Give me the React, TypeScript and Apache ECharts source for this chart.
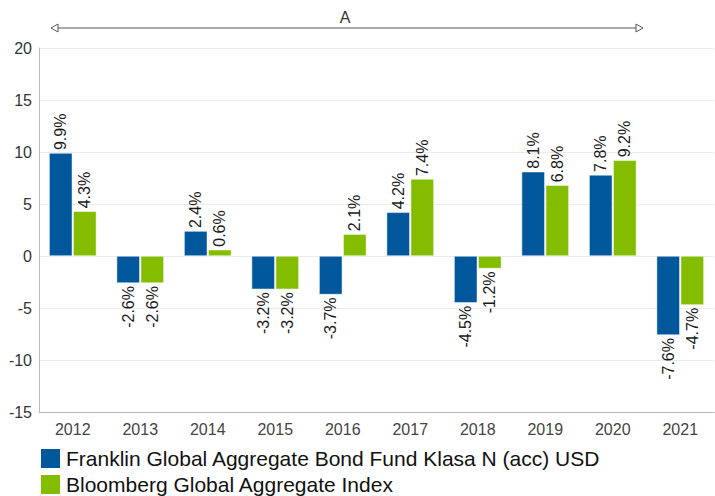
import React, { useEffect, useRef } from "react";
import * as echarts from "echarts";

const categories = ["2012", "2013", "2014", "2015", "2016", "2017", "2018", "2019", "2020", "2021"];
const fundValues = [9.9, -2.6, 2.4, -3.2, -3.7, 4.2, -4.5, 8.1, 7.8, -7.6];
const indexValues = [4.3, -2.6, 0.6, -3.2, 2.1, 7.4, -1.2, 6.8, 9.2, -4.7];
const seriesNames = [
  "Franklin Global Aggregate Bond Fund Klasa N (acc) USD",
  "Bloomberg Global Aggregate Index",
];
const colors = ["#00579c", "#84bd00"];
const FONT = "'Liberation Sans', Arial, sans-serif";

function makeData(vals: number[]) {
  return vals.map((v) => ({
    value: v,
    label: {
      show: true,
      rotate: 90,
      position: v >= 0 ? "top" : "bottom",
      align: v >= 0 ? "left" : "right",
      verticalAlign: "middle",
      distance: 3,
      formatter: (p: any) => `${p.value}%`,
      fontSize: 16,
      color: "#1a1a1a",
      fontFamily: FONT,
    },
  }));
}

const legendBase = {
  orient: "vertical",
  left: 39,
  padding: 0,
  itemWidth: 21,
  itemHeight: 21,
  icon: "rect",
  textStyle: { fontSize: 21, color: "#111", fontFamily: FONT },
};

export default function App() {
  const ref = useRef<HTMLDivElement>(null);
  useEffect(() => {
    if (!ref.current) return;
    const chart = echarts.init(ref.current, null, { renderer: "svg" });
    chart.setOption({
      animation: false,
      textStyle: { fontFamily: FONT },
      grid: { left: 39, right: 1, top: 48, bottom: 84 },
      legend: [
        { ...legendBase, top: 447, data: [seriesNames[0]] },
        { ...legendBase, top: 473, data: [seriesNames[1]] },
      ],
      xAxis: {
        type: "category",
        data: categories,
        axisLine: { show: true, onZero: false, lineStyle: { color: "#bbb" } },
        axisTick: { show: false },
        axisLabel: { fontSize: 16, color: "#444", margin: 9, fontFamily: FONT },
      },
      yAxis: {
        type: "value",
        min: -15,
        max: 20,
        interval: 5,
        axisLine: { show: true, lineStyle: { color: "#bbb" } },
        axisTick: { show: false },
        splitLine: { lineStyle: { color: "#ececec" } },
        axisLabel: { fontSize: 16, color: "#333", margin: 7, fontFamily: FONT },
      },
      graphic: [
        {
          type: "line",
          shape: { x1: 58, y1: 28, x2: 636, y2: 28 },
          style: { stroke: "#555", lineWidth: 1 },
        },
        {
          type: "polygon",
          shape: { points: [[51, 28], [58, 24], [58, 32]] },
          style: { fill: "#fff", stroke: "#555", lineWidth: 1 },
        },
        {
          type: "polygon",
          shape: { points: [[643, 28], [636, 24], [636, 32]] },
          style: { fill: "#fff", stroke: "#555", lineWidth: 1 },
        },
        {
          type: "text",
          x: 345,
          y: 17,
          style: { text: "A", fontSize: 16, fill: "#333", align: "center", verticalAlign: "middle", fontFamily: FONT },
        },
      ],
      series: [
        {
          name: seriesNames[0],
          type: "bar",
          data: makeData(fundValues),
          itemStyle: { color: colors[0], borderColor: "#fff", borderWidth: 0.5 },
          barGap: "4%",
          barCategoryGap: "30%",
        },
        {
          name: seriesNames[1],
          type: "bar",
          data: makeData(indexValues),
          itemStyle: { color: colors[1], borderColor: "#fff", borderWidth: 0.5 },
          barGap: "4%",
          barCategoryGap: "30%",
        },
      ],
    });
    return () => chart.dispose();
  }, []);
  return <div ref={ref} style={{ width: 715, height: 496, position: "absolute", left: 0, top: 0 }} />;
}
